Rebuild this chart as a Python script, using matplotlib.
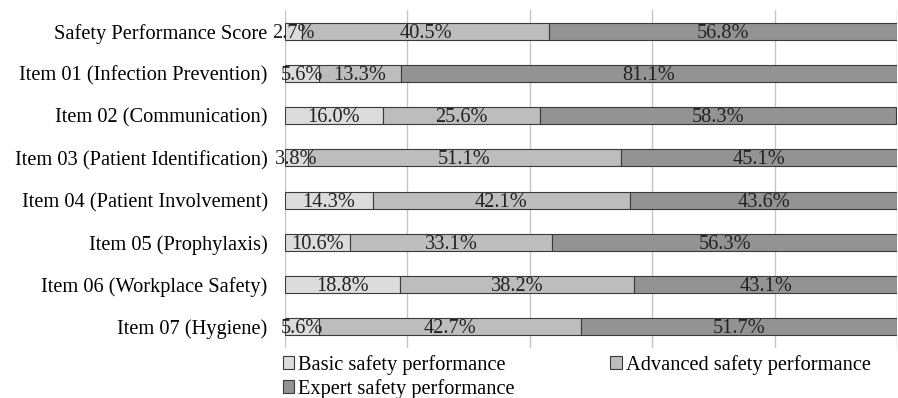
import matplotlib.pyplot as plt
import numpy as np

plt.rcParams['font.family'] = ['Liberation Serif', 'DejaVu Serif']

items = ['Safety Performance Score', 'Item 01 (Infection Prevention)', 'Item 02 (Communication)',
	'Item 03 (Patient Identification)', 'Item 04 (Patient Involvement)', 'Item 05 (Prophylaxis)',
	'Item 06 (Workplace Safety)', 'Item 07 (Hygiene)']
basic = [2.7, 5.6, 16.0, 3.8, 14.3, 10.6, 18.8, 5.6]
advanced = [40.5, 13.3, 25.6, 51.1, 42.1, 33.1, 38.2, 42.7]
expert = [56.8, 81.1, 58.3, 45.1, 43.6, 56.3, 43.1, 51.7]
series_names = ['Basic safety performance', 'Advanced safety performance', 'Expert safety performance']
colors = ['#dcdcdc', '#bdbdbd', '#939393']

fig = plt.figure(figsize=(8.98, 3.98), dpi=100)
ax = fig.add_axes([285/898, 50/398, 612/898, 338/398])

y = np.arange(len(items))
left = np.zeros(len(items))
bars = []
for vals, name, c in zip([basic, advanced, expert], series_names, colors):
	vals = np.array(vals)
	b = ax.barh(y, vals, left=left, height=0.4, color=c, edgecolor='#3a3a3a', linewidth=0.8, label=name, zorder=3)
	bars.append(b)
	for yi, l, v in zip(y, left, vals):
		ax.text(l + v / 2, yi + 0.05, '%.1f%%' % v, ha='center', va='center', fontsize=14.7, color='#222222', zorder=4)
	left = left + vals

ax.set_xlim(0, 100)
ax.set_ylim(len(items) - 0.5, -0.5)
ax.set_yticks(y)
ax.set_yticklabels(items, fontsize=14.7)
ax.set_xticks([0, 20, 40, 60, 80, 100])
ax.tick_params(axis='x', length=0, labelbottom=False)
ax.tick_params(axis='y', length=0, pad=12.5)
ax.grid(axis='x', color='#c4c4c4', linewidth=1, zorder=0)
for s in ax.spines.values():
	s.set_visible(False)

# reorder so the legend fills row by row: Basic, Advanced / Expert
order = [0, 2, 1]
ax.legend([bars[i] for i in order], [series_names[i] for i in order], loc='upper left',
	bbox_to_anchor=(-0.004, -0.02), ncol=2, frameon=False, fontsize=14.7,
	handlelength=0.58, handleheight=0.58, handletextpad=0.2, columnspacing=4.65,
	labelspacing=0.2, borderaxespad=0, borderpad=0)

fig.savefig('out.png', dpi=100)
